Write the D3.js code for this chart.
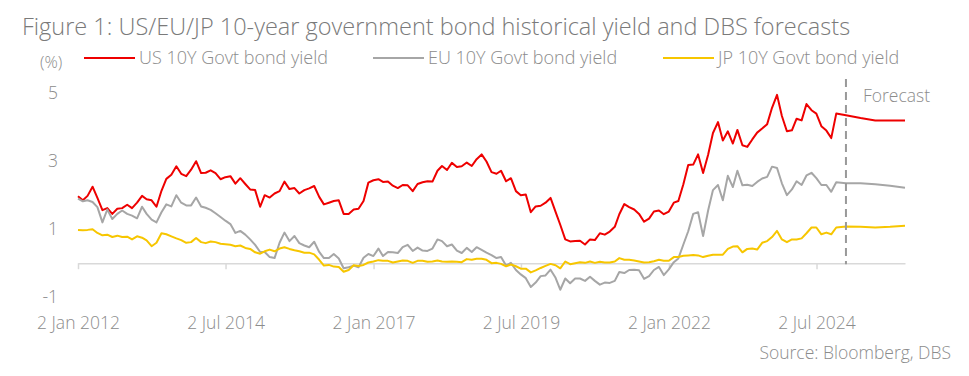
<!DOCTYPE html>
<html>
<head>
<meta charset="utf-8">
<script src="https://cdn.jsdelivr.net/npm/d3@7"></script>
<style>
  body { margin: 0; background: #fff; }
  svg text { font-family: 'Open Sans', sans-serif; font-weight: 300; }
</style>
</head>
<body>
<div id="chart"></div>
<script>
// Monthly readings (start of month), Jan 2012 .. Nov 2024.
const usHist = [
  1.97, 1.85, 1.98, 2.25, 1.92, 1.56, 1.62, 1.45, 1.60, 1.62, 1.72, 1.62,
  1.78, 1.98, 1.88, 1.85, 1.66, 2.13, 2.48, 2.60, 2.85, 2.63, 2.56, 2.75,
  3.00, 2.65, 2.66, 2.73, 2.65, 2.47, 2.53, 2.56, 2.34, 2.50, 2.33, 2.17,
  2.15, 1.66, 2.00, 1.93, 2.05, 2.12, 2.40, 2.18, 2.21, 2.05, 2.15, 2.20,
  2.27, 1.95, 1.73, 1.78, 1.83, 1.85, 1.45, 1.45, 1.58, 1.60, 1.83, 2.37,
  2.44, 2.47, 2.39, 2.40, 2.28, 2.21, 2.30, 2.29, 2.12, 2.33, 2.38, 2.41,
  2.40, 2.72, 2.86, 2.74, 2.95, 2.83, 2.85, 2.96, 2.86, 3.06, 3.20, 2.99,
  2.68, 2.63, 2.72, 2.41, 2.50, 2.12, 2.00, 2.02, 1.50, 1.67, 1.69, 1.78,
  1.92, 1.51, 1.13, 0.70, 0.64, 0.65, 0.66, 0.55, 0.70, 0.68, 0.88, 0.84,
  0.93, 1.07, 1.44, 1.74, 1.65, 1.58, 1.45, 1.22, 1.31, 1.52, 1.55, 1.44,
  1.52, 1.78, 1.83, 2.32, 2.89, 2.90, 3.20, 2.65, 3.19, 3.83, 4.15, 3.61,
  3.88, 3.52, 3.92, 3.47, 3.42, 3.64, 3.84, 3.96, 4.09, 4.57, 4.95, 4.33,
  3.88, 3.91, 4.25, 4.20, 4.68, 4.50, 4.40, 4.03, 3.90, 3.68, 4.40
];
const euHist = [
  1.90, 1.82, 1.85, 1.80, 1.65, 1.20, 1.58, 1.30, 1.45, 1.55, 1.45, 1.40,
  1.32, 1.66, 1.45, 1.28, 1.20, 1.50, 1.73, 1.67, 2.00, 1.78, 1.70, 1.70,
  1.93, 1.67, 1.63, 1.57, 1.47, 1.36, 1.25, 1.15, 0.89, 0.95, 0.84, 0.70,
  0.54, 0.33, 0.33, 0.18, 0.15, 0.60, 0.90, 0.65, 0.80, 0.59, 0.52, 0.47,
  0.63, 0.33, 0.15, 0.15, 0.27, 0.14, -0.15, -0.12, -0.07, -0.12, 0.16, 0.27,
  0.21, 0.43, 0.21, 0.33, 0.32, 0.30, 0.47, 0.54, 0.36, 0.46, 0.37, 0.36,
  0.43, 0.70, 0.65, 0.50, 0.55, 0.37, 0.30, 0.45, 0.33, 0.47, 0.39, 0.31,
  0.24, 0.15, 0.18, -0.07, 0.01, -0.20, -0.33, -0.44, -0.70, -0.57, -0.38, -0.36,
  -0.19, -0.43, -0.78, -0.45, -0.59, -0.45, -0.45, -0.52, -0.40, -0.52, -0.63, -0.57,
  -0.58, -0.52, -0.26, -0.29, -0.20, -0.19, -0.21, -0.46, -0.38, -0.20, -0.11, -0.35,
  -0.18, 0.03, 0.14, 0.55, 0.94, 1.45, 1.50, 0.80, 1.55, 2.15, 2.30, 1.85,
  2.57, 2.24, 2.72, 2.29, 2.31, 2.27, 2.39, 2.49, 2.54, 2.84, 2.80, 2.35,
  2.00, 2.17, 2.41, 2.30, 2.58, 2.66, 2.50, 2.30, 2.30, 2.10, 2.38
];
const jpHist = [
  0.98, 0.97, 0.98, 1.00, 0.89, 0.82, 0.84, 0.77, 0.81, 0.77, 0.78, 0.70,
  0.79, 0.75, 0.67, 0.50, 0.60, 0.88, 0.85, 0.79, 0.73, 0.68, 0.60, 0.62,
  0.74, 0.62, 0.59, 0.64, 0.62, 0.57, 0.56, 0.54, 0.50, 0.52, 0.45, 0.42,
  0.32, 0.28, 0.35, 0.40, 0.35, 0.43, 0.47, 0.42, 0.38, 0.35, 0.31, 0.31,
  0.26, 0.10, -0.07, -0.05, -0.10, -0.11, -0.25, -0.20, -0.06, -0.08, -0.05, 0.02,
  0.05, 0.09, 0.07, 0.07, 0.02, 0.05, 0.08, 0.07, 0.01, 0.07, 0.07, 0.04,
  0.05, 0.08, 0.05, 0.04, 0.05, 0.04, 0.03, 0.12, 0.10, 0.13, 0.13, 0.10,
  0.00, 0.01, -0.02, -0.09, -0.04, -0.09, -0.16, -0.16, -0.27, -0.21, -0.14, -0.08,
  -0.02, -0.06, -0.15, 0.05, -0.03, 0.00, 0.03, 0.01, 0.05, 0.01, 0.04, 0.02,
  0.02, 0.05, 0.15, 0.10, 0.10, 0.08, 0.05, 0.02, 0.03, 0.06, 0.10, 0.07,
  0.07, 0.18, 0.18, 0.22, 0.23, 0.24, 0.23, 0.18, 0.22, 0.25, 0.25, 0.25,
  0.42, 0.49, 0.50, 0.32, 0.42, 0.43, 0.40, 0.60, 0.65, 0.77, 0.95, 0.70,
  0.62, 0.70, 0.70, 0.73, 0.88, 1.05, 1.05, 0.85, 0.90, 0.85, 1.05
];

// DBS forecasts (quarter ends).
const fcDates = ['2024-12-31', '2025-03-31', '2025-06-30', '2025-09-30', '2025-12-31'];
const usFc = [4.35, 4.27, 4.20, 4.20, 4.20];
const euFc = [2.35, 2.35, 2.32, 2.28, 2.22];
const jpFc = [1.08, 1.07, 1.05, 1.07, 1.10];

// Axis labels.
const tickDates = ['2012-01-02', '2014-07-02', '2017-01-02', '2019-07-02', '2022-01-02', '2024-07-02'];
const yTicks = [-1, 1, 3, 5];
const seriesNames = ['US 10Y Govt bond yield', 'EU 10Y Govt bond yield', 'JP 10Y Govt bond yield'];
const seriesColors = ['#ee0000', '#a6a6a6', '#f7c600'];

const parse = d3.timeParse('%Y-%m-%d');
const textCol = '#8c8c8c';

// Month dates for the history.
const histDates = d3.timeMonth.range(new Date(2012, 0, 1), new Date(2024, 11, 1));
histDates[0] = parse('2012-01-02');

function build(hist, fc) {
  const pts = hist.map((v, i) => ({date: histDates[i], value: v}));
  fc.forEach((v, i) => pts.push({date: parse(fcDates[i]), value: v}));
  return pts;
}
const series = [build(usHist, usFc), build(euHist, euFc), build(jpHist, jpFc)];

const svg = d3.select('#chart')
  .append('svg')
  .attr('width', 969)
  .attr('height', 376);

// Scales.
const x = d3.scaleTime()
  .domain([parse('2012-01-02'), parse('2025-12-31')])
  .range([78, 905]);
const y = d3.scaleLinear()
  .domain([-1, 5])
  .range([297.2, 93.2]);

// Title.
svg.append('text')
  .attr('x', 22)
  .attr('y', 35)
  .attr('font-size', '23.5px')
  .attr('fill', '#7a7a7a')
  .text('Figure 1: US/EU/JP 10-year government bond historical yield and DBS forecasts');

// Unit label.
svg.append('text')
  .attr('x', 40)
  .attr('y', 68)
  .attr('font-size', '16.5px')
  .attr('fill', textCol)
  .text('(%)');

// Legend.
const legendX = [84, 373, 663];
seriesNames.forEach((name, i) => {
  svg.append('line')
    .attr('x1', legendX[i]).attr('x2', legendX[i] + 51)
    .attr('y1', 58).attr('y2', 58)
    .attr('stroke', seriesColors[i])
    .attr('stroke-width', 2);
  svg.append('text')
    .attr('x', legendX[i] + 55)
    .attr('y', 64)
    .attr('font-size', '18px')
    .attr('fill', textCol)
    .text(name);
});

// Y axis (labels only).
const yAxis = svg.append('g')
  .attr('transform', 'translate(58,0)')
  .call(d3.axisLeft(y).tickValues(yTicks).tickSize(0).tickPadding(0).tickFormat(d => String(d)));
yAxis.select('.domain').remove();
yAxis.selectAll('text')
  .attr('font-size', '17.5px')
  .attr('font-family', "'Open Sans', sans-serif")
  .attr('fill', textCol);

// X axis at zero.
const xAxis = svg.append('g')
  .attr('transform', `translate(0,${y(0)})`)
  .call(d3.axisBottom(x)
    .tickValues(tickDates.map(parse))
    .tickSize(6)
    .tickSizeOuter(0)
    .tickPadding(47)
    .tickFormat(d3.timeFormat('%-d %b %Y')));
xAxis.select('.domain')
  .attr('stroke', '#d9d9d9')
  .attr('stroke-width', 1.5);
xAxis.selectAll('.tick line')
  .attr('stroke', '#d9d9d9')
  .attr('stroke-width', 1.5);
xAxis.selectAll('text')
  .attr('font-size', '17.5px')
  .attr('font-family', "'Open Sans', sans-serif")
  .attr('fill', textCol);

// Lines.
const line = d3.line()
  .x(d => x(d.date))
  .y(d => y(d.value));

series.forEach((s, i) => {
  svg.append('path')
    .datum(s)
    .attr('fill', 'none')
    .attr('stroke', seriesColors[i])
    .attr('stroke-width', 2)
    .attr('stroke-linejoin', 'round')
    .attr('d', line);
});

// Forecast divider.
const fcStart = x(parse(fcDates[0]));
svg.append('line')
  .attr('x1', fcStart).attr('x2', fcStart)
  .attr('y1', 79).attr('y2', y(0) + 1)
  .attr('stroke', '#999999')
  .attr('stroke-width', 2)
  .attr('stroke-dasharray', '8,5');

svg.append('text')
  .attr('x', fcStart + 17)
  .attr('y', 102)
  .attr('font-size', '17.5px')
  .attr('fill', textCol)
  .text('Forecast');

// Source.
svg.append('text')
  .attr('x', 951)
  .attr('y', 359)
  .attr('text-anchor', 'end')
  .attr('font-size', '17.5px')
  .attr('fill', textCol)
  .text('Source: Bloomberg, DBS');
</script>
</body>
</html>
